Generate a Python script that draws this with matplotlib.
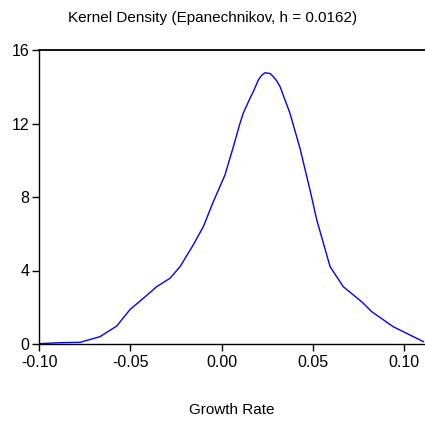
import matplotlib
matplotlib.use("Agg")
import matplotlib.pyplot as plt

plt.rcParams["font.family"] = ["Liberation Sans", "DejaVu Sans"]

# kernel density curve
growth = [-0.0998, -0.0885, -0.0775, -0.0666, -0.0574, -0.0501, -0.0428, -0.0355,
          -0.0282, -0.0227, -0.0155, -0.0100, -0.0045, 0.0019, 0.0065, 0.0101,
          0.0119, 0.0156, 0.0174, 0.0202, 0.0220, 0.0238, 0.0266, 0.0284, 0.0302,
          0.0321, 0.0375, 0.0430, 0.0485, 0.0522, 0.0595, 0.0667, 0.0768,
          0.0823, 0.0941, 0.1106]
density = [0.02, 0.07, 0.09, 0.40, 0.98, 1.88, 2.49, 3.12,
           3.58, 4.21, 5.39, 6.38, 7.74, 9.20, 10.74, 12.00,
           12.56, 13.37, 13.73, 14.37, 14.62, 14.76, 14.72, 14.55, 14.33,
           14.00, 12.56, 10.65, 8.38, 6.75, 4.21, 3.12, 2.30,
           1.76, 0.94, 0.13]

x_ticks = [-0.10, -0.05, 0.00, 0.05, 0.10]
y_ticks = [0, 4, 8, 12, 16]

fig = plt.figure(figsize=(4.25, 4.21), dpi=100, facecolor="white")
ax = fig.add_axes([39/425, 1 - 344/421, 386/425, 294/421])

ax.plot(growth, density, color="#0000FF", lw=1.0)

ax.set_xlim(-0.10, 0.1115)
ax.set_ylim(0, 16)
ax.set_xticks(x_ticks)
ax.set_xticklabels([f"{v:.2f}" for v in x_ticks])
ax.set_yticks(y_ticks)
ax.tick_params(axis="both", direction="out", length=5, width=1, labelsize=11.5, colors="black")
ax.tick_params(axis="x", pad=3)
ax.tick_params(axis="y", pad=2)

for sp in ["left", "top", "bottom"]:
    ax.spines[sp].set_color("black")
    ax.spines[sp].set_linewidth(1.0)
ax.spines["top"].set_linewidth(1.3)
ax.spines["right"].set_visible(False)

fig.text(0.5, 1 - 18/421, "Kernel Density (Epanechnikov, h = 0.0162)",
         fontsize=11, ha="center", va="center")
ax.set_xlabel("Growth Rate", fontsize=11, labelpad=24)

fig.savefig("out.png", dpi=100, facecolor="white")
